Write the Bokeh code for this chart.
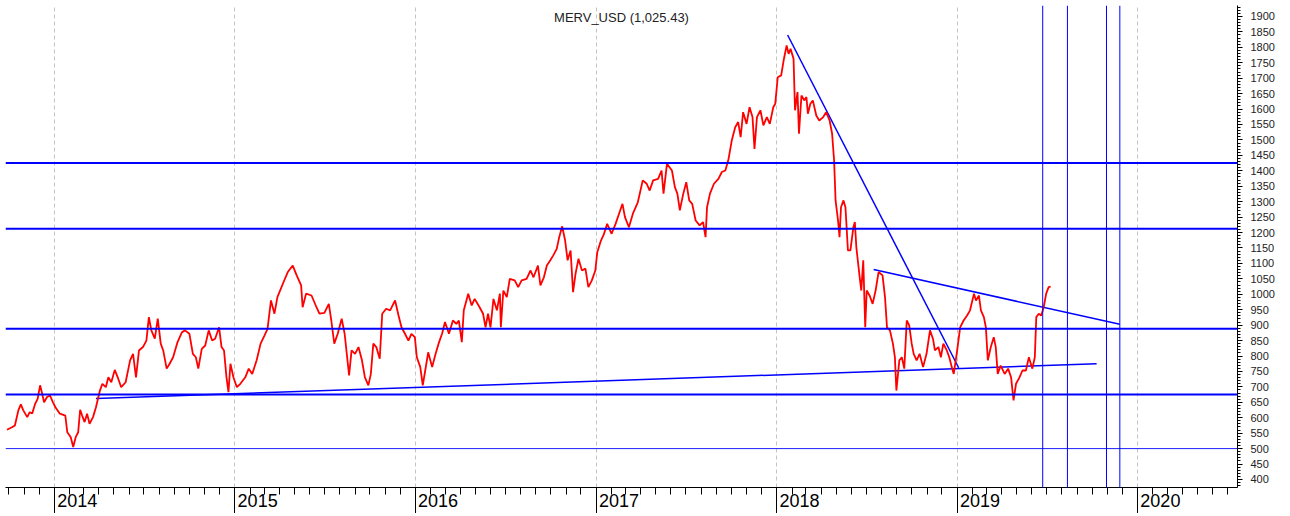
import pandas as pd
from bokeh.plotting import figure
from bokeh.models import (Range1d, FixedTicker, DatetimeTickFormatter, SingleIntervalTicker, Span,
                          DatetimeAxis)
from bokeh.core.properties import value
from bokeh.embed import file_html
from bokeh.resources import INLINE

title_text = "MERV_USD (1,025.43)"

dates = [
    "2013-09-27", "2013-10-07", "2013-10-13", "2013-10-20", "2013-10-25", "2013-10-30", "2013-11-07", "2013-11-12",
    "2013-11-17", "2013-11-23", "2013-11-28", "2013-12-03", "2013-12-07", "2013-12-11", "2013-12-17", "2013-12-23",
    "2013-12-29",
    "2014-01-03", "2014-01-12", "2014-01-23", "2014-01-27", "2014-02-03", "2014-02-08", "2014-02-13", "2014-02-18",
    "2014-02-22", "2014-02-26", "2014-03-03", "2014-03-08", "2014-03-13", "2014-03-20", "2014-03-26", "2014-04-03",
    "2014-04-08", "2014-04-15", "2014-04-20", "2014-04-26", "2014-05-03", "2014-05-09", "2014-05-16", "2014-05-25",
    "2014-06-03", "2014-06-09", "2014-06-15", "2014-06-21", "2014-06-29", "2014-07-06", "2014-07-11", "2014-07-16",
    "2014-07-23", "2014-07-29", "2014-08-04", "2014-08-09", "2014-08-16", "2014-08-22", "2014-08-29", "2014-09-07",
    "2014-09-16", "2014-09-22", "2014-10-01", "2014-10-08", "2014-10-14", "2014-10-19", "2014-10-26", "2014-11-02",
    "2014-11-09", "2014-11-16", "2014-11-22", "2014-11-30", "2014-12-05", "2014-12-10", "2014-12-15", "2014-12-19",
    "2014-12-23", "2014-12-29",
    "2015-01-05", "2015-01-12", "2015-01-22", "2015-01-29", "2015-02-05", "2015-02-14", "2015-02-22", "2015-03-02",
    "2015-03-08", "2015-03-15", "2015-03-22", "2015-03-28", "2015-04-08", "2015-04-18", "2015-04-28", "2015-05-06",
    "2015-05-15", "2015-05-18", "2015-05-25", "2015-06-05", "2015-06-15", "2015-06-21", "2015-07-01", "2015-07-10",
    "2015-07-15", "2015-07-21", "2015-07-28", "2015-08-05", "2015-08-11", "2015-08-20", "2015-08-25", "2015-09-01",
    "2015-09-08", "2015-09-15", "2015-09-21", "2015-09-28", "2015-10-03", "2015-10-08", "2015-10-14", "2015-10-21",
    "2015-10-26", "2015-11-03", "2015-11-11", "2015-11-21", "2015-11-28", "2015-12-04", "2015-12-11", "2015-12-18",
    "2015-12-24", "2015-12-31",
    "2016-01-04", "2016-01-11", "2016-01-16", "2016-01-21", "2016-01-27", "2016-02-04", "2016-02-11", "2016-02-17",
    "2016-02-24", "2016-03-01", "2016-03-09", "2016-03-17", "2016-03-24", "2016-03-29", "2016-04-04", "2016-04-08",
    "2016-04-17", "2016-04-24", "2016-04-30", "2016-05-10", "2016-05-17", "2016-05-22", "2016-05-27", "2016-06-01",
    "2016-06-07", "2016-06-14", "2016-06-20", "2016-06-22", "2016-06-27", "2016-07-04", "2016-07-10", "2016-07-20",
    "2016-07-27", "2016-08-03", "2016-08-13", "2016-08-21", "2016-08-27", "2016-09-05", "2016-09-10", "2016-09-17",
    "2016-09-23", "2016-09-30", "2016-10-06", "2016-10-13", "2016-10-18", "2016-10-24", "2016-10-30", "2016-11-04",
    "2016-11-10", "2016-11-15", "2016-11-20", "2016-11-26", "2016-12-03", "2016-12-10", "2016-12-16", "2016-12-23",
    "2016-12-30",
    "2017-01-03", "2017-01-10", "2017-01-16", "2017-01-23", "2017-02-01", "2017-02-09", "2017-02-16", "2017-02-23",
    "2017-02-28", "2017-03-08", "2017-03-16", "2017-03-26", "2017-04-05", "2017-04-13", "2017-04-19", "2017-04-26",
    "2017-05-06", "2017-05-13", "2017-05-17", "2017-05-24", "2017-06-03", "2017-06-09", "2017-06-14", "2017-06-19",
    "2017-06-26", "2017-07-02", "2017-07-08", "2017-07-14", "2017-07-21", "2017-07-29", "2017-08-05", "2017-08-10",
    "2017-08-13", "2017-08-19", "2017-08-27", "2017-09-05", "2017-09-12", "2017-09-19", "2017-09-25", "2017-10-02",
    "2017-10-09", "2017-10-15", "2017-10-20", "2017-10-25", "2017-11-01", "2017-11-07", "2017-11-13", "2017-11-17",
    "2017-11-22", "2017-11-29", "2017-12-05", "2017-12-12", "2017-12-18", "2017-12-25", "2017-12-29",
    "2018-01-03", "2018-01-10", "2018-01-15", "2018-01-21", "2018-01-25", "2018-01-29", "2018-02-04", "2018-02-07",
    "2018-02-12", "2018-02-15", "2018-02-20", "2018-02-26", "2018-03-02", "2018-03-05", "2018-03-10", "2018-03-15",
    "2018-03-22", "2018-03-28", "2018-04-05", "2018-04-11", "2018-04-18", "2018-04-23", "2018-04-27", "2018-04-30",
    "2018-05-05", "2018-05-08", "2018-05-11", "2018-05-16", "2018-05-20", "2018-05-25", "2018-05-30", "2018-06-05",
    "2018-06-08", "2018-06-11", "2018-06-17", "2018-06-21", "2018-06-25", "2018-06-29", "2018-07-02", "2018-07-08",
    "2018-07-14", "2018-07-20", "2018-07-26", "2018-08-03", "2018-08-08", "2018-08-12", "2018-08-18", "2018-08-24",
    "2018-08-28", "2018-08-31", "2018-09-06", "2018-09-11", "2018-09-16", "2018-09-21", "2018-09-26", "2018-10-01",
    "2018-10-05", "2018-10-11", "2018-10-17", "2018-10-24", "2018-10-31", "2018-11-07", "2018-11-13", "2018-11-17",
    "2018-11-24", "2018-11-29", "2018-12-04", "2018-12-11", "2018-12-16", "2018-12-21", "2018-12-25", "2018-12-31",
    "2019-01-07", "2019-01-14", "2019-01-21", "2019-01-27", "2019-02-04", "2019-02-08", "2019-02-14", "2019-02-18",
    "2019-02-24", "2019-02-28", "2019-03-04", "2019-03-10", "2019-03-16", "2019-03-20", "2019-03-24", "2019-03-30",
    "2019-04-07", "2019-04-14", "2019-04-20", "2019-04-25", "2019-04-30", "2019-05-07", "2019-05-13", "2019-05-20",
    "2019-05-26", "2019-06-02", "2019-06-07", "2019-06-10", "2019-06-15", "2019-06-20", "2019-06-25", "2019-06-30",
    "2019-07-05", "2019-07-09",
]

prices = [
    561, 569, 575, 624, 643, 624, 602, 618,
    614, 645, 661, 705, 679, 650, 667, 672,
    650,
    634, 613, 607, 553, 537, 505, 537, 553,
    626, 607, 586, 613, 580, 602, 634, 688,
    710, 699, 731, 715, 755, 731, 699, 715,
    786, 807, 731, 818, 829, 850, 926, 883,
    856, 921, 840, 818, 759, 775, 796, 845,
    877, 883, 872, 807, 796, 759, 823, 834,
    883, 850, 856, 893, 829, 818, 731, 683,
    775, 731,
    699, 710, 731, 759, 742, 786, 840, 867,
    888, 980, 937, 991, 1034, 1072, 1093, 1061,
    1029, 958, 1002, 996, 958, 937, 940, 969,
    915, 840, 872, 921, 872, 737, 818, 807,
    829, 786, 731, 705, 742, 840, 829, 791,
    937, 953, 948, 980, 931, 893, 872, 850,
    872, 861,
    796, 764, 705, 753, 812, 764, 807, 840,
    872, 910, 872, 915, 904, 915, 845, 948,
    1002, 964, 985, 958, 937, 893, 937, 893,
    985, 948, 1002, 893, 1012, 991, 1050, 1045,
    1023, 1045, 1050, 1077, 1055, 1093, 1029, 1055,
    1093, 1110, 1126, 1147, 1185, 1220, 1174, 1110,
    1142, 1007, 1066, 1115, 1077, 1083, 1023, 1045,
    1077,
    1136, 1172, 1193, 1228, 1196, 1228, 1261, 1293,
    1250, 1217, 1261, 1298, 1369, 1358, 1336, 1369,
    1374, 1401, 1326, 1423, 1401, 1347, 1326, 1272,
    1326, 1363, 1304, 1293, 1239, 1223, 1234, 1185,
    1282, 1326, 1358, 1374, 1396, 1401, 1434, 1498,
    1541, 1558, 1509, 1590, 1552, 1606, 1574, 1471,
    1574, 1596, 1547, 1574, 1552, 1606, 1617,
    1703, 1709, 1758, 1806, 1779, 1795, 1763, 1596,
    1655, 1520, 1644, 1628, 1639, 1585, 1617, 1628,
    1579, 1563, 1574, 1590, 1563, 1520, 1434, 1304,
    1239, 1185, 1282, 1304, 1282, 1142, 1142, 1217,
    1234, 1153, 1066, 1012, 1110, 893, 1012, 995,
    969, 1012, 1072, 1061, 991, 893, 883, 840,
    796, 688, 786, 796, 759, 915, 899, 840,
    807, 786, 807, 764, 807, 883, 856, 818,
    829, 796, 840, 818, 796, 764, 742, 807,
    893, 915, 931, 948, 1002, 980, 996, 948,
    926, 893, 786, 829, 861, 829, 742, 769,
    742, 759, 731, 656, 710, 731, 753, 753,
    796, 759, 796, 926, 937, 931, 958, 1002,
    1023, 1025,
]

level_lines = [1425, 1212, 888, 675]
thin_level_lines = [500]

trend_start_dates = ["2014-03-26", "2018-01-23", "2018-07-16"]
trend_start_values = [662, 1840, 1080]
trend_end_dates = ["2019-10-10", "2019-01-04", "2019-11-26"]
trend_end_values = [775, 762, 903]

marker_dates = ["2019-06-23", "2019-08-12", "2019-10-30", "2019-11-26"]

year_ticks = [2014, 2015, 2016, 2017, 2018, 2019, 2020]

x_start = pd.Timestamp("2013-09-24")
x_end = pd.Timestamp("2020-07-21")
y_low, y_high = 374, 1935.5

p = figure(
    x_axis_type="datetime", y_axis_location="right",
    frame_width=1232, frame_height=482,
    x_range=Range1d(x_start, x_end), y_range=Range1d(y_low, y_high),
    output_backend="svg", toolbar_location=None,
    min_border_left=5, min_border_top=5, min_border_right=0, min_border_bottom=0,
    background_fill_color="white", border_fill_color="white",
)
p.outline_line_color = None

def ms(ts):
    return pd.Timestamp(ts).value / 1e6

year_fmt = DatetimeTickFormatter(years="%Y", months="%Y", days="%Y", hours="%Y", hourmin="%Y",
                                 minutes="%Y", minsec="%Y", seconds="%Y", milliseconds="%Y",
                                 microseconds="%Y")

# main axis: year ticks (long) and month ticks (short), no captions
major = [ms(f"{y}-01-01") for y in year_ticks]
minor = [ms(d) for d in pd.date_range("2013-10-01", "2020-07-01", freq="MS")]
xa = p.xaxis[0]
xa.ticker = FixedTicker(ticks=major, minor_ticks=minor)
xa.formatter = year_fmt
xa.major_tick_out = 26
xa.major_tick_in = 0
xa.minor_tick_out = 7
xa.minor_tick_in = 0
xa.major_label_text_color = None
xa.axis_line_color = "#000000"
xa.major_tick_line_color = "#000000"
xa.minor_tick_line_color = "#000000"

# caption axis: year captions sit just right of each year tick, as in the original
caption_shift = pd.Timedelta(days=46)
captions = [ms(pd.Timestamp(f"{y}-01-01") + caption_shift) for y in year_ticks]
xb = DatetimeAxis(ticker=FixedTicker(ticks=captions, minor_ticks=[]), formatter=year_fmt)
xb.axis_line_color = None
xb.major_tick_line_color = None
xb.minor_tick_line_color = None
xb.major_tick_out = 0
xb.major_tick_in = 0
xb.minor_tick_out = 0
xb.minor_tick_in = 0
xb.major_label_standoff = -20
xb.major_label_text_font = "Liberation Sans"
xb.major_label_text_font_size = "18px"
xb.major_label_text_color = "#000000"
p.add_layout(xb, "below")

p.yaxis.ticker = SingleIntervalTicker(interval=50, num_minor_ticks=5)
p.yaxis.major_tick_out = 5
p.yaxis.major_tick_in = 0
p.yaxis.minor_tick_out = 3
p.yaxis.minor_tick_in = 0
p.yaxis.major_label_standoff = 8
p.yaxis.major_label_text_font = "Liberation Sans"
p.yaxis.major_label_text_font_size = "11px"
p.yaxis.major_label_text_color = "#222222"
p.yaxis.axis_line_color = "#000000"

p.xgrid.ticker = FixedTicker(ticks=major)
p.xgrid.grid_line_color = "#c4c4c4"
p.xgrid.grid_line_dash = "4 3"
p.ygrid.visible = False

for lv in level_lines:
    p.add_layout(Span(location=lv, dimension="width", line_color="#0000ff", line_width=2))
for lv in thin_level_lines:
    p.add_layout(Span(location=lv, dimension="width", line_color="#1f1fff", line_width=1))
for d in marker_dates:
    p.add_layout(Span(location=pd.Timestamp(d), dimension="height", line_color="#0000ff", line_width=1))

p.segment(x0=pd.to_datetime(trend_start_dates), y0=trend_start_values,
          x1=pd.to_datetime(trend_end_dates), y1=trend_end_values,
          line_color="#0000ff", line_width=1.5)

p.line(pd.to_datetime(dates), prices, line_color="#ff0000", line_width=1.8)

mid = x_start + (x_end - x_start) / 2
p.text(x=[mid], y=[1896], text=[title_text], text_align="center", text_baseline="middle",
       text_font=value("Liberation Sans"), text_font_size="13px", text_color="#222222")

open("out.html", "w").write(file_html(p, INLINE))
